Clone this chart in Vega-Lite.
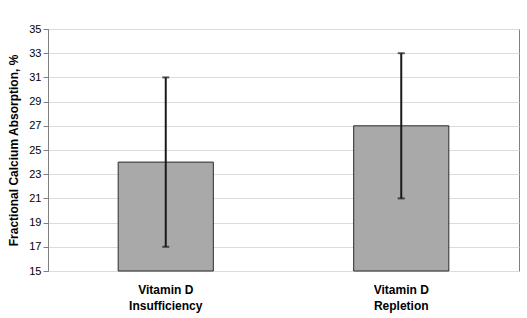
{
  "$schema": "https://vega.github.io/schema/vega-lite/v6.json",
  "width": 471,
  "height": 242,
  "autosize": {"type": "none"},
  "padding": {"left": 48, "top": 29, "right": 8, "bottom": 47},
  "background": "white",
  "config": {
    "view": {"stroke": "#808080", "strokeWidth": 1},
    "font": "Liberation Sans",
    "axisY": {
      "titleFont": "Liberation Sans",
      "titleFontSize": 12,
      "titleFontWeight": "bold",
      "titleColor": "black",
      "titlePadding": 8,
      "labelOverlap": false,
      "labelFont": "Liberation Sans",
      "labelFontSize": 11,
      "labelColor": "black",
      "labelPadding": 2,
      "tickColor": "#808080",
      "tickSize": 5,
      "domainColor": "#808080",
      "gridColor": "#dcdcdc",
      "gridWidth": 1
    }
  },
  "data": {
    "values": [
      {"group": "Vitamin D Insufficiency", "mean": 24, "lo": 17, "hi": 31},
      {"group": "Vitamin D Repletion", "mean": 27, "lo": 21, "hi": 33}
    ]
  },
  "encoding": {
    "x": {
      "field": "group",
      "type": "nominal",
      "sort": null,
      "scale": {"paddingInner": 0, "paddingOuter": 0},
      "axis": {
        "title": null,
        "labelAngle": 0,
        "ticks": false,
        "domain": false,
        "labelFont": "Liberation Sans",
        "labelFontSize": 12,
        "labelFontWeight": "bold",
        "labelColor": "black",
        "labelPadding": 13,
        "labelLineHeight": 16,
        "labelBaseline": "top",
        "labelExpr": "['Vitamin D', substring(datum.label, 10)]"
      }
    }
  },
  "layer": [
    {
      "mark": {"type": "bar", "width": {"band": 0.404}, "fill": "#a9a9a9", "stroke": "#2b2b2b", "strokeWidth": 1},
      "encoding": {
        "y": {
          "field": "mean",
          "type": "quantitative",
          "scale": {"domain": [15, 35], "nice": false, "zero": false},
          "axis": {"title": "Fractional Calcium Absorption, %", "values": [15, 17, 19, 21, 23, 25, 27, 29, 31, 33, 35]}
        },
        "y2": {"datum": 15}
      }
    },
    {
      "mark": {"type": "rule", "color": "#1a1a1a", "strokeWidth": 2},
      "encoding": {
        "y": {"field": "lo", "type": "quantitative", "axis": {"title": "Fractional Calcium Absorption, %", "values": [15, 17, 19, 21, 23, 25, 27, 29, 31, 33, 35]}},
        "y2": {"field": "hi"}
      }
    },
    {
      "mark": {"type": "tick", "color": "#1a1a1a", "thickness": 2, "size": 7},
      "encoding": {"y": {"field": "lo", "type": "quantitative", "axis": {"title": "Fractional Calcium Absorption, %", "values": [15, 17, 19, 21, 23, 25, 27, 29, 31, 33, 35]}}}
    },
    {
      "mark": {"type": "tick", "color": "#1a1a1a", "thickness": 2, "size": 7},
      "encoding": {"y": {"field": "hi", "type": "quantitative", "axis": {"title": "Fractional Calcium Absorption, %", "values": [15, 17, 19, 21, 23, 25, 27, 29, 31, 33, 35]}}}
    }
  ]
}
